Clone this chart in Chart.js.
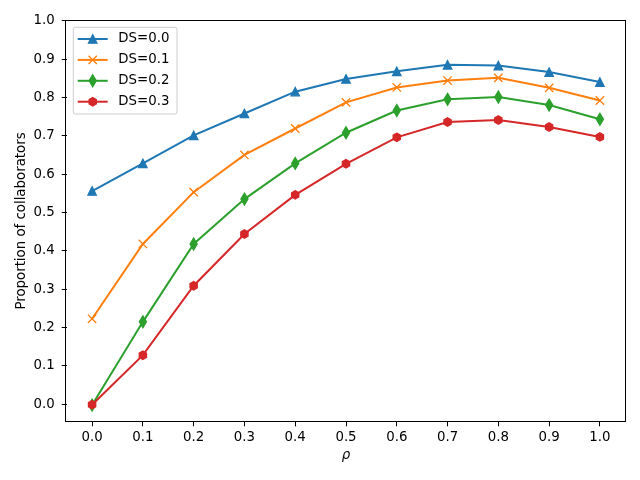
<!DOCTYPE html>
<html><head><meta charset="utf-8">
<script src="https://cdn.jsdelivr.net/npm/chart.js@4.4.0/dist/chart.umd.min.js"></script>
<style>html,body{margin:0;padding:0;background:#fff}canvas{display:block}</style>
</head><body>
<canvas id="c" width="640" height="480"></canvas>
<script>
// ---- data ----
const rho = [0.0, 0.1, 0.2, 0.3, 0.4, 0.5, 0.6, 0.7, 0.8, 0.9, 1.0];
const seriesLabels = ['DS=0.0', 'DS=0.1', 'DS=0.2', 'DS=0.3'];
const ds00 = [0.556, 0.628, 0.701, 0.758, 0.815, 0.848, 0.868, 0.885, 0.883, 0.866, 0.840];
const ds01 = [0.223, 0.418, 0.553, 0.650, 0.719, 0.787, 0.826, 0.844, 0.851, 0.825, 0.792];
const ds02 = [-0.002, 0.215, 0.418, 0.535, 0.628, 0.708, 0.766, 0.795, 0.801, 0.780, 0.743];
const ds03 = [-0.001, 0.128, 0.309, 0.444, 0.546, 0.627, 0.696, 0.736, 0.741, 0.723, 0.697];
const xTicks = [0.0, 0.1, 0.2, 0.3, 0.4, 0.5, 0.6, 0.7, 0.8, 0.9, 1.0];
const yTicks = [0.0, 0.1, 0.2, 0.3, 0.4, 0.5, 0.6, 0.7, 0.8, 0.9, 1.0];
const xTitle = 'ρ';
const yTitle = 'Proportion of collaborators';

// ---- styles ----
const colors = ['#1f77b4', '#ff7f0e', '#2ca02c', '#d62728'];
const markers = ['triangle', 'x', 'thinDiamond', 'hexagon'];
const FONT = '"DejaVu Sans", sans-serif';
const MS = 8.33; // marker size px
const MEW = 1.33;

function drawMarker(ctx, kind, x, y, color) {
  ctx.save();
  ctx.fillStyle = color;
  ctx.strokeStyle = color;
  ctx.lineWidth = MEW;
  ctx.lineJoin = 'miter';
  const h = MS / 2;
  ctx.beginPath();
  if (kind === 'triangle') {
    ctx.moveTo(x, y - h); ctx.lineTo(x - h, y + h); ctx.lineTo(x + h, y + h); ctx.closePath();
    ctx.fill(); ctx.stroke();
  } else if (kind === 'x') {
    ctx.moveTo(x - h, y - h); ctx.lineTo(x + h, y + h);
    ctx.moveTo(x - h, y + h); ctx.lineTo(x + h, y - h);
    ctx.stroke();
  } else if (kind === 'thinDiamond') {
    const dy = 0.7071 * MS, dx = 0.6 * 0.7071 * MS;
    ctx.moveTo(x, y - dy); ctx.lineTo(x + dx, y); ctx.lineTo(x, y + dy); ctx.lineTo(x - dx, y); ctx.closePath();
    ctx.fill(); ctx.stroke();
  } else if (kind === 'hexagon') {
    for (let k = 0; k < 6; k++) {
      const a = -Math.PI / 2 + k * Math.PI / 3;
      const px = x + h * Math.cos(a), py = y + h * Math.sin(a);
      if (k === 0) ctx.moveTo(px, py); else ctx.lineTo(px, py);
    }
    ctx.closePath(); ctx.fill(); ctx.stroke();
  }
  ctx.restore();
}

const seriesValues = [ds00, ds01, ds02, ds03];
const datasets = seriesValues.map((vals, i) => ({
  label: seriesLabels[i],
  data: rho.map((r, j) => ({ x: r, y: vals[j] })),
  borderColor: colors[i],
  backgroundColor: colors[i],
  borderWidth: 2,
  pointRadius: 0,
  pointHoverRadius: 0,
  tension: 0,
  fill: false,
  order: seriesValues.length - i,
  marker: markers[i]
}));

const markerPlugin = {
  id: 'markers',
  afterDatasetDraw(chart, args) {
    const ctx = chart.ctx;
    const ds = chart.data.datasets[args.index];
    ctx.save();
    const a = chart.chartArea;
    ctx.beginPath(); ctx.rect(a.left - 10, a.top - 10, a.right - a.left + 20, a.bottom - a.top + 20); ctx.clip();
    args.meta.data.forEach(pt => drawMarker(ctx, ds.marker, pt.x, pt.y, ds.borderColor));
    ctx.restore();
  }
};

const framePlugin = {
  id: 'frame',
  afterDraw(chart) {
    const ctx = chart.ctx;
    const a = chart.chartArea;
    ctx.save();
    ctx.strokeStyle = '#000';
    ctx.lineWidth = 1;
    const l = Math.floor(a.left) - 0.5, t = Math.floor(a.top) + 0.5;
    const r = Math.floor(a.right) + 0.5, b = Math.floor(a.bottom) + 0.5;
    ctx.strokeRect(l, t, r - l, b - t);

    // legend
    const bx = 73.3, by = 27.3, bw = 103.7, bh = 86.7, rad = 2;
    ctx.beginPath();
    ctx.moveTo(bx + rad, by);
    ctx.lineTo(bx + bw - rad, by); ctx.quadraticCurveTo(bx + bw, by, bx + bw, by + rad);
    ctx.lineTo(bx + bw, by + bh - rad); ctx.quadraticCurveTo(bx + bw, by + bh, bx + bw - rad, by + bh);
    ctx.lineTo(bx + rad, by + bh); ctx.quadraticCurveTo(bx, by + bh, bx, by + bh - rad);
    ctx.lineTo(bx, by + rad); ctx.quadraticCurveTo(bx, by, bx + rad, by);
    ctx.closePath();
    ctx.fillStyle = 'rgba(255,255,255,0.8)';
    ctx.fill();
    ctx.strokeStyle = '#cccccc';
    ctx.lineWidth = 1;
    ctx.stroke();
    chart.data.datasets.forEach((ds, i) => {
      const y = 39 + i * 20.9;
      ctx.beginPath();
      ctx.strokeStyle = ds.borderColor;
      ctx.lineWidth = 2;
      ctx.moveTo(77.7, y); ctx.lineTo(107.7, y); ctx.stroke();
      drawMarker(ctx, ds.marker, 92.7, y, ds.borderColor);
      ctx.fillStyle = '#000';
      ctx.font = '13.33px ' + FONT;
      ctx.textBaseline = 'middle';
      ctx.textAlign = 'left';
      ctx.fillText(ds.label, 118.3, y);
    });
    ctx.restore();
  }
};

new Chart(document.getElementById('c'), {
  type: 'line',
  data: { datasets },
  plugins: [markerPlugin, framePlugin],
  options: {
    responsive: false,
    animation: false,
    devicePixelRatio: 1,
    layout: { padding: { top: 20.7, right: 14.7, left: 0, bottom: 0 } },
    plugins: { legend: { display: false }, tooltip: { enabled: false } },
    events: [],
    scales: {
      x: {
        type: 'linear',
        min: -0.05, max: 1.05,
        afterBuildTicks: ax => { ax.ticks = xTicks.map(v => ({ value: v })); },
        afterFit: ax => { ax.height = 58.7; },
        ticks: { color: '#000', font: { family: FONT, size: 13.33 }, padding: 3, maxRotation: 0, autoSkip: false,
                 callback: v => Number(v).toFixed(1) },
        grid: { display: true, drawOnChartArea: false, drawTicks: true, tickLength: 5, color: '#000', lineWidth: 1 },
        border: { display: false },
        title: { display: true, text: xTitle, color: '#000', font: { family: FONT, size: 13.33, style: 'italic' }, padding: { top: 0, bottom: 16 } }
      },
      y: {
        type: 'linear',
        min: -0.0443, max: 1.0,
        afterBuildTicks: ax => { ax.ticks = yTicks.map(v => ({ value: v })); },
        afterFit: ax => { ax.width = 66.7; },
        ticks: { color: '#000', font: { family: FONT, size: 13.33 }, padding: 7, autoSkip: false,
                 callback: v => Number(v).toFixed(1) },
        grid: { display: true, drawOnChartArea: false, drawTicks: true, tickLength: 5, color: '#000', lineWidth: 1 },
        border: { display: false },
        title: { display: true, text: yTitle, color: '#000', font: { family: FONT, size: 13.33 }, padding: { top: 14, bottom: 0 } }
      }
    }
  }
});
</script>
</body></html>
